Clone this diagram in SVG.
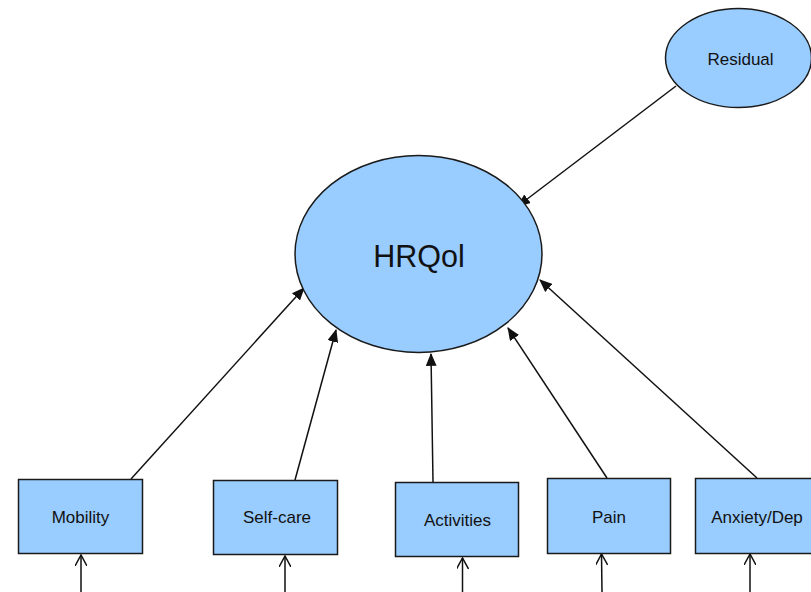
<svg xmlns="http://www.w3.org/2000/svg" width="811" height="592" viewBox="0 0 811 592">
<style>
.n{fill:#99ccff;stroke:#1a1a1a;stroke-width:1.5}
.t{font-family:"Liberation Sans",Arial,sans-serif;fill:#111;text-anchor:middle;dominant-baseline:central}
.c{stroke:#111;stroke-width:1.5;fill:none}
</style>
<defs>
<marker id="f" viewBox="0 0 12 10" refX="11" refY="5" markerWidth="13" markerHeight="11" markerUnits="userSpaceOnUse" orient="auto">
<path d="M0,0 L12,5 L0,10 Z" fill="#111"/>
</marker>
<marker id="o" viewBox="0 0 12 12" refX="11" refY="6" markerWidth="12" markerHeight="12" markerUnits="userSpaceOnUse" orient="auto">
<path d="M0,0 L11,6 L0,12" fill="none" stroke="#111" stroke-width="1.5"/>
</marker>
</defs>
<rect width="811" height="592" fill="#fff"/>
<g id="connectors">
<line class="c" x1="676" y1="86" x2="518" y2="206" marker-end="url(#f)"/>
<line class="c" x1="131" y1="479" x2="304" y2="288" marker-end="url(#f)"/>
<line class="c" x1="295" y1="480" x2="336" y2="330" marker-end="url(#f)"/>
<line class="c" x1="433" y1="482" x2="431" y2="354" marker-end="url(#f)"/>
<line class="c" x1="607" y1="478" x2="508" y2="328" marker-end="url(#f)"/>
<line class="c" x1="757" y1="478" x2="540" y2="280" marker-end="url(#f)"/>
<line class="c" x1="81" y1="592" x2="81" y2="555" marker-end="url(#o)"/>
<line class="c" x1="285" y1="592" x2="285" y2="556" marker-end="url(#o)"/>
<line class="c" x1="462.5" y1="592" x2="462.5" y2="558" marker-end="url(#o)"/>
<line class="c" x1="602" y1="592" x2="601.5" y2="554" marker-end="url(#o)"/>
<line class="c" x1="750" y1="592" x2="750" y2="554" marker-end="url(#o)"/>
</g>
<g id="hrqol">
<ellipse class="n" cx="418.5" cy="254" rx="123.5" ry="98.5"/>
<text class="t" x="419" y="256" font-size="30.5">HRQol</text>
</g>
<g id="residual">
<ellipse class="n" cx="738.5" cy="58" rx="73" ry="49.5"/>
<text class="t" x="740.5" y="59" font-size="17">Residual</text>
</g>
<g id="mobility">
<rect class="n" x="18.5" y="479.5" width="124" height="74"/>
<text class="t" x="80.5" y="517" font-size="17">Mobility</text>
</g>
<g id="selfcare">
<rect class="n" x="213.5" y="480.5" width="124" height="74"/>
<text class="t" x="277" y="517.5" font-size="17">Self-care</text>
</g>
<g id="activities">
<rect class="n" x="395.5" y="482.5" width="123" height="74"/>
<text class="t" x="457.5" y="520" font-size="17">Activities</text>
</g>
<g id="pain">
<rect class="n" x="547.5" y="478.5" width="123" height="75"/>
<text class="t" x="609" y="517" font-size="17">Pain</text>
</g>
<g id="anxiety">
<rect class="n" x="695.5" y="478.5" width="124" height="75"/>
<text class="t" x="757" y="517" font-size="17">Anxiety/Dep</text>
</g>
</svg>
